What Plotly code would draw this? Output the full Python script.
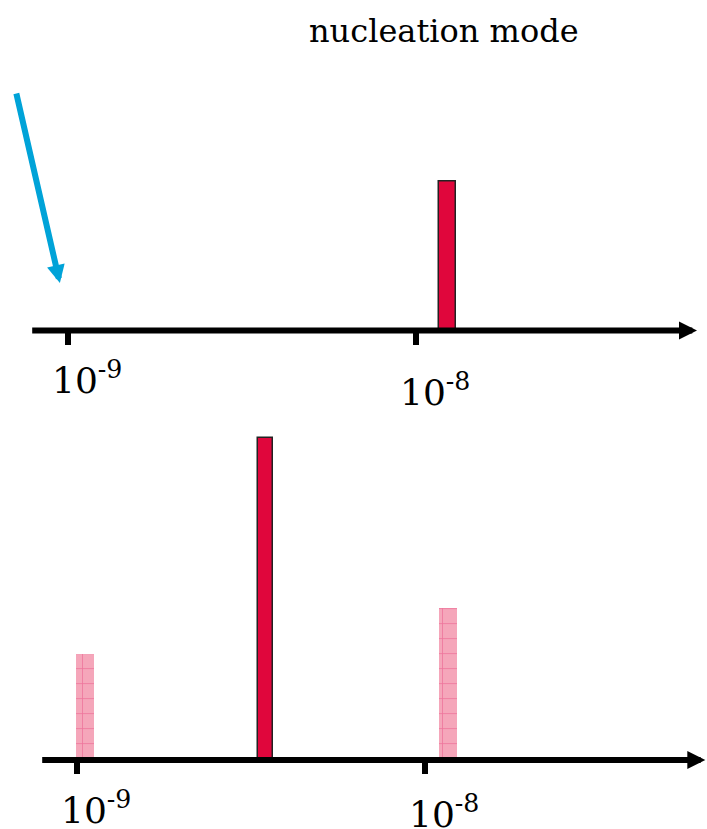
import numpy as np
import plotly.graph_objects as go

# Particle diameters (m) and relative number concentrations (arbitrary units)
top_diam = [1.23e-8]
top_conc = [4.63]

bottom_prev_diam = [1.05e-9, 1.16e-8]
bottom_prev_conc = [3.30, 4.73]

bottom_new_diam = [3.47e-9]
bottom_new_conc = [10.0]

tick_vals = [-9, -8]
tick_text = ["10<sup>-9</sup>", "10<sup>-8</sup>"]

title_text = "nucleation mode"

W, H = 707, 829
RED = "#E0063C"
PINK = "#F5A6BA"
PINK_LINE = "#E5417A"
BLUE = "#00A3D8"
FONT = "DejaVu Serif"


def px_x(p):
    return p / W


def px_y(p):
    return (H - p) / H


fig = go.Figure()

fig.add_trace(go.Bar(
    x=np.log10(top_diam), y=top_conc, width=0.0503,
    marker=dict(color=RED, line=dict(color="#222222", width=1.5)),
    xaxis="x", yaxis="y", showlegend=False,
))

fig.add_trace(go.Bar(
    x=np.log10(bottom_prev_diam), y=bottom_prev_conc, width=0.0509,
    marker=dict(color=PINK, line=dict(width=0),
                pattern=dict(shape="+", size=15, solidity=0.1,
                             fgcolor=PINK_LINE, bgcolor=PINK)),
    xaxis="x2", yaxis="y2", showlegend=False,
))

fig.add_trace(go.Bar(
    x=np.log10(bottom_new_diam), y=bottom_new_conc, width=0.0417,
    marker=dict(color=RED, line=dict(color="#222222", width=1.5)),
    xaxis="x2", yaxis="y2", showlegend=False,
))

xcommon = dict(showgrid=False, zeroline=False, showline=False,
               showticklabels=False, ticks="outside", tickvals=tick_vals,
               ticklen=13, tickwidth=6, tickcolor="black", domain=[0, 1],
               fixedrange=True)
ycommon = dict(visible=False, fixedrange=True)

fig.update_layout(
    width=W, height=H,
    margin=dict(l=0, r=0, t=0, b=0),
    paper_bgcolor="white", plot_bgcolor="rgba(0,0,0,0)",
    bargap=0, barmode="overlay",
    xaxis=dict(**xcommon, range=[-9.19626, -7.16465], anchor="y"),
    yaxis=dict(**ycommon, range=[0, 6], domain=[px_y(330.5), px_y(137.5)], anchor="x"),
    xaxis2=dict(**xcommon, range=[-9.22241, -7.19080], anchor="y2"),
    yaxis2=dict(**ycommon, range=[0, 11], domain=[px_y(760), px_y(406.1)], anchor="x2"),
)

annotations = []

# axis lines with arrowheads
for y_line, x_start, x_tip in [(330.5, 30.7, 697.0), (760.0, 40.7, 705.3)]:
    annotations.append(dict(
        xref="paper", yref="paper", x=px_x(x_tip), y=px_y(y_line),
        ax=x_start - x_tip, ay=0, axref="pixel", ayref="pixel",
        showarrow=True, arrowhead=2, arrowsize=0.6, arrowwidth=6,
        arrowcolor="black", text="",
    ))

# blue pointer arrow
annotations.append(dict(
    xref="paper", yref="paper", x=px_x(59.9), y=px_y(283.1),
    ax=-43.9, ay=-191.1, axref="pixel", ayref="pixel",
    showarrow=True, arrowhead=2, arrowsize=0.6, arrowwidth=6,
    arrowcolor=BLUE, text="",
))

# tick labels
label_rows = [("x", [378.0, 390.0]), ("x2", [808.0, 812.0])]
for xref, ys in label_rows:
    for tv, tt, yc in zip(tick_vals, tick_text, ys):
        annotations.append(dict(
            xref=xref, yref="paper", x=tv, y=px_y(yc),
            xanchor="left", yanchor="middle", xshift=-18,
            text=tt, showarrow=False,
            font=dict(family=FONT, size=36, color="black"),
        ))

# title
annotations.append(dict(
    xref="paper", yref="paper", x=px_x(307), y=px_y(31),
    xanchor="left", yanchor="middle", text=title_text, showarrow=False,
    font=dict(family=FONT, size=32, color="black"),
))

fig.update_layout(annotations=annotations)

fig.write_html("out.html")
